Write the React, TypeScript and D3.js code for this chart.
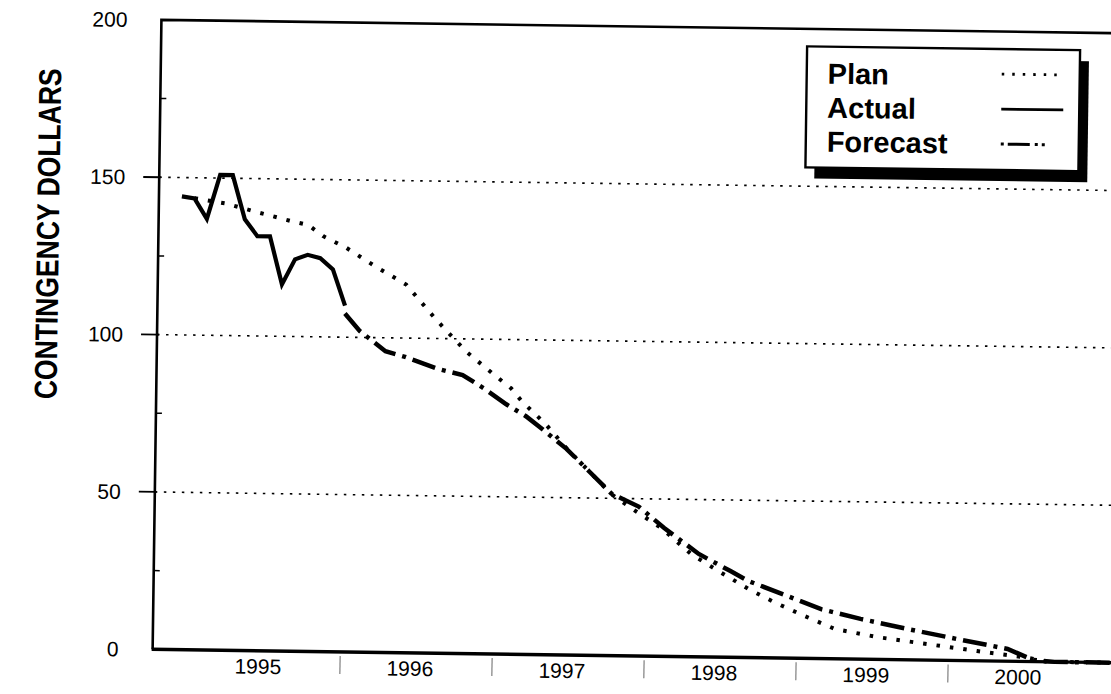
import React from "react";
import * as d3 from "d3";

// ---- data (years as fractional dates) ----
const yearLabels = [1995, 1996, 1997, 1998, 1999, 2000];
const yTickValues = [0, 50, 100, 150, 200];
const yMinorTicks = [25, 75, 125, 175];
const gridValues = [50, 100, 150];

const actualDates = [1994.917, 1995.0, 1995.083, 1995.167, 1995.25, 1995.333, 1995.417, 1995.5, 1995.583, 1995.667, 1995.75, 1995.833, 1995.917, 1996.0];
const actualValues = [144, 143.4, 137, 151, 151, 137, 131.7, 131.7, 116.5, 124.5, 126, 125, 121.5, 110];

const planDates = [1995.0, 1995.2, 1995.4, 1995.65, 1995.75, 1995.85, 1996.0, 1996.2, 1996.4, 1996.6, 1996.72, 1996.8, 1996.98, 1997.1, 1997.17, 1997.33, 1997.47, 1997.62, 1997.77, 1997.9, 1998.1, 1998.3, 1998.48, 1998.68, 1998.86, 1999.05, 1999.25, 1999.53, 1999.86, 2000.19, 2000.52, 2000.65, 2001.1];
const planValues = [143.5, 142, 139.5, 136.5, 135.5, 132, 128.5, 122.5, 117, 106, 100, 96, 89, 84.5, 80.5, 73.3, 65.7, 58.5, 51.3, 47, 40.8, 32.6, 27.4, 21.8, 17.5, 13.5, 9.5, 7.1, 5.1, 3.1, 1.2, 0, 0];

const forecastDates = [1996.0, 1996.1, 1996.27, 1996.4, 1996.62, 1996.78, 1996.92, 1997.07, 1997.2, 1997.3, 1997.47, 1997.62, 1997.77, 1997.95, 1998.12, 1998.35, 1998.56, 1998.68, 1998.94, 1999.16, 1999.42, 1999.73, 2000.06, 2000.39, 2000.56, 2000.7, 2001.1];
const forecastValues = [107.5, 102, 95.7, 94.0, 90.3, 88.5, 84.4, 79.4, 75.7, 72, 65.5, 58.5, 51.5, 47.5, 40.8, 32.7, 27.4, 24.3, 19.7, 15.7, 12.8, 9.8, 6.8, 3.9, 0.5, 0, 0];

const legendItems = ["Plan", "Actual", "Forecast"];
const yTitle = "CONTINGENCY DOLLARS";

// ---- layout ----
const W = 1111;
const H = 694;
const L = 157;
const T = 26.5;
const B = 656;
const R = 1125;
const PX_PER_YEAR = 152;
const X0 = 1994.766;

const FONT = "'Liberation Sans', Arial, Helvetica, sans-serif";
const PLAN_DASH = "3.5 10";
const FORECAST_DASH = "24 7 4 7";

export default function App() {
  const x = d3.scaleLinear().domain([X0, X0 + (R - L) / PX_PER_YEAR]).range([L, R]);
  const y = d3.scaleLinear().domain([0, 200]).range([B, T]);

  const line = d3
    .line<[number, number]>()
    .x((d) => x(d[0]))
    .y((d) => y(d[1]));

  const actual = actualDates.map((d, i) => [d, actualValues[i]] as [number, number]);
  const plan = planDates.map((d, i) => [d, planValues[i]] as [number, number]);
  const forecast = forecastDates.map((d, i) => [d, forecastValues[i]] as [number, number]);

  const lx = 803;
  const ly = 44;
  const lw = 273;
  const lh = 121;

  return (
    <svg
      width={W}
      height={H}
      style={{ position: "absolute", left: 0, top: 0, background: "#fff" }}
    >
      <rect x={0} y={0} width={W} height={H} fill="#fff" />
      <g transform="rotate(0.8 636 340)">
        {/* grid lines */}
        {gridValues.map((v) => (
          <line
            key={"g" + v}
            x1={L}
            x2={R}
            y1={y(v)}
            y2={y(v)}
            stroke="#000"
            strokeWidth={1.6}
            strokeDasharray="2.5 6.5"
          />
        ))}

        {/* minor y ticks */}
        {yMinorTicks.map((v) => (
          <line key={"m" + v} x1={L} x2={L + 6} y1={y(v)} y2={y(v)} stroke="#000" strokeWidth={1.5} />
        ))}
        {/* major y ticks */}
        {gridValues.map((v) => (
          <line key={"t" + v} x1={L - 16} x2={L + 2} y1={y(v)} y2={y(v)} stroke="#000" strokeWidth={1.8} />
        ))}
        {/* y labels */}
        {yTickValues.map((v) => (
          <text
            key={"yl" + v}
            x={123}
            y={y(v)}
            dy="0.36em"
            textAnchor="end"
            fontFamily={FONT}
            fontSize={21}
            fill="#000"
          >
            {v}
          </text>
        ))}

        {/* x ticks at year boundaries */}
        {yearLabels.slice(1).map((yr) => (
          <line key={"xt" + yr} x1={x(yr)} x2={x(yr)} y1={B + 4} y2={B + 22} stroke="#666" strokeWidth={1} />
        ))}
        {yearLabels.map((yr) => (
          <text
            key={"xl" + yr}
            x={x(yr + 0.46)}
            y={B + 23}
            textAnchor="middle"
            fontFamily={FONT}
            fontSize={21}
            fill="#000"
          >
            {yr}
          </text>
        ))}

        {/* y title */}
        <text
          transform={`translate(46, 242) rotate(-90) scale(1.02, 1.22)`}
          textAnchor="middle"
          dy="0.36em"
          fontFamily={FONT}
          fontWeight="bold"
          fontSize={26}
          fill="#000"
        >
          {yTitle}
        </text>

        {/* series */}
        <path d={line(plan) || ""} fill="none" stroke="#000" strokeWidth={4} strokeDasharray={PLAN_DASH} />
        <path d={line(forecast) || ""} fill="none" stroke="#000" strokeWidth={4.5} strokeDasharray={FORECAST_DASH} />
        <path d={line(actual) || ""} fill="none" stroke="#000" strokeWidth={4.2} strokeLinejoin="miter" />

        {/* frame */}
        <path d={`M${R},${T} L${L},${T} L${L},${B}`} fill="none" stroke="#000" strokeWidth={2.6} />
        <line x1={L - 1} x2={R} y1={B} y2={B} stroke="#000" strokeWidth={3.4} />

        {/* legend */}
        <rect x={lx + 9} y={ly + 11} width={lw} height={lh} fill="#000" />
        <rect x={lx} y={ly} width={lw} height={lh} fill="#fff" stroke="#000" strokeWidth={2.4} />
        {legendItems.map((name, i) => (
          <text
            key={name}
            x={lx + 21}
            y={ly + 37 + i * 34}
            fontFamily={FONT}
            fontWeight="bold"
            fontSize={29}
            fill="#000"
          >
            {name}
          </text>
        ))}
        <line x1={lx + 195} x2={lx + 257} y1={ly + 25} y2={ly + 25} stroke="#000" strokeWidth={2.8} strokeDasharray="2.5 8" />
        <line x1={lx + 195} x2={lx + 257} y1={ly + 60} y2={ly + 60} stroke="#000" strokeWidth={2.8} />
        <line x1={lx + 195} x2={lx + 257} y1={ly + 95} y2={ly + 95} stroke="#000" strokeWidth={3} strokeDasharray="3 4 22 5 3 4 3 40" />
      </g>
    </svg>
  );
}
